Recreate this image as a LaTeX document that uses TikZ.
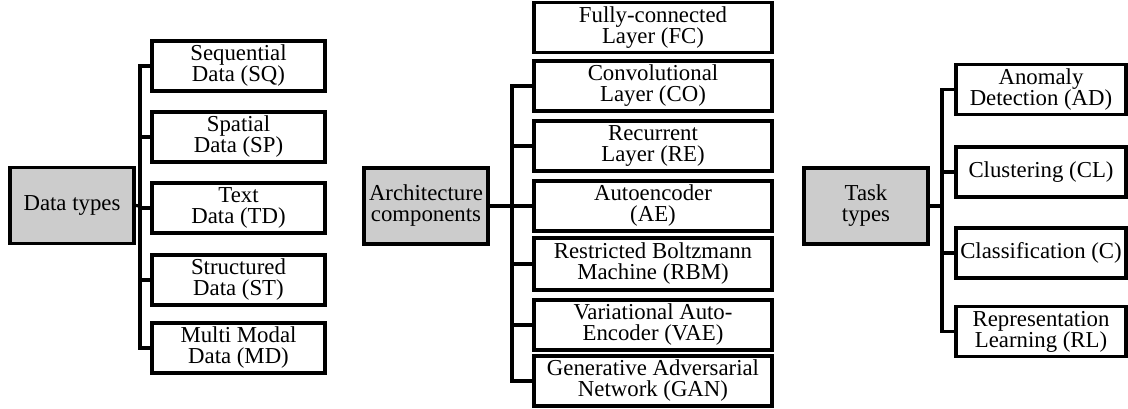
\documentclass[tikz,border=0pt]{standalone}
\usepackage{fontspec}
\setmainfont{Liberation Serif}
\usepackage{tikz}
\usetikzlibrary{positioning}

\begin{document}
\begin{tikzpicture}[x=1pt, y=-1pt, line width=3.2pt, line join=miter,
  font=\fontsize{22.8}{21}\selectfont,
  rootbox/.style={draw, rectangle, fill=gray!40, align=center, inner sep=0pt, minimum width=124pt, minimum height=76pt},
  leafbox/.style={draw, rectangle, fill=white, align=center, inner sep=0pt, minimum height=50pt},
  branch/.style={line cap=rect}]

\useasboundingbox (0,0) rectangle (1128,408);

% Nodes
\node[rootbox] (dt) at (72,205.5) {Data types};
\node[leafbox, minimum width=173pt] (sq) at (238.5,66) {Sequential\\Data (SQ)};
\node[leafbox, minimum width=173pt] (sp) at (238.5,137) {Spatial\\Data (SP)};
\node[leafbox, minimum width=173pt] (td) at (238.5,208) {Text\\Data (TD)};
\node[leafbox, minimum width=173pt] (st) at (238.5,280) {Structured\\Data (ST)};
\node[leafbox, minimum width=173pt] (md) at (238.5,348) {Multi Modal\\Data (MD)};

\node[rootbox] (arch) at (426,206) {Architecture\\components};
\node[leafbox, minimum width=238pt] (fc) at (653,27.5) {Fully-connected\\Layer (FC)};
\node[leafbox, minimum width=238pt] (co) at (653,86) {Convolutional\\Layer (CO)};
\node[leafbox, minimum width=238pt] (re) at (653,146) {Recurrent\\Layer (RE)};
\node[leafbox, minimum width=238pt] (ae) at (653,206) {Autoencoder\\(AE)};
\node[leafbox, minimum width=238pt, minimum height=52pt] (rbm) at (653,264) {Restricted Boltzmann\\Machine (RBM)};
\node[leafbox, minimum width=238pt] (vae) at (653,325) {Variational Auto-\\Encoder (VAE)};
\node[leafbox, minimum width=238pt] (gan) at (653,381) {Generative Adversarial\\Network (GAN)};

\node[rootbox] (task) at (866,206) {Task\\types};
\node[leafbox, minimum width=170pt] (ad) at (1041,89.5) {Anomaly\\Detection (AD)};
\node[leafbox, minimum width=170pt] (cl) at (1041,172) {Clustering (CL)};
\node[leafbox, minimum width=170pt] (cc) at (1041,253) {Classification (C)};
\node[leafbox, minimum width=170pt] (rl) at (1041,331.5) {Representation\\Learning (RL)};

\coordinate (dtbus) at (140,206);
\coordinate (archbus) at (512,206);
\coordinate (taskbus) at (942,206);

% Connectors
\draw (dt.east) -- (dtbus);
\draw[branch] (dtbus |- sq.west) -- (dtbus |- md.west);
\foreach \c in {sq,sp,td,st,md}
  \draw (dtbus |- \c.west) -- (\c.west);

\draw (arch.east) -- (archbus);
\draw[branch] (archbus |- co.west) -- (archbus |- gan.west);
\foreach \c in {co,re,ae,rbm,vae,gan}
  \draw (archbus |- \c.west) -- (\c.west);

\draw (task.east) -- (taskbus);
\draw[branch] (taskbus |- ad.west) -- (taskbus |- rl.west);
\foreach \c in {ad,cl,cc,rl}
  \draw (taskbus |- \c.west) -- (\c.west);

\end{tikzpicture}
\end{document}
